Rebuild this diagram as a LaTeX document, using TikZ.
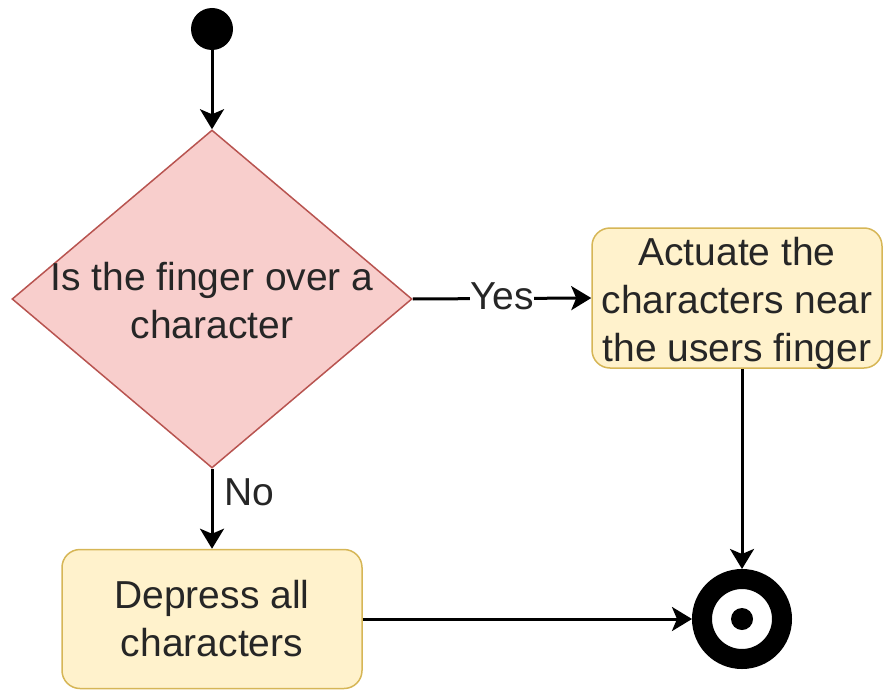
\documentclass[tikz,border=0pt]{standalone}
\usepackage{fontspec}
\setmainfont{Liberation Sans}
\usetikzlibrary{shapes.geometric,arrows.meta}
\definecolor{decfill}{HTML}{F8CECC}
\definecolor{decline}{HTML}{B85450}
\definecolor{actfill}{HTML}{FFF2CC}
\definecolor{actline}{HTML}{D6B656}

\begin{document}
\begin{tikzpicture}[x=1pt, y=-1pt, >={Stealth[length=20pt,width=24pt,inset=5pt]},
	every node/.style={font=\fontsize{39}{48}\selectfont, text=black!85},
	action/.style={draw=actline, fill=actfill, line width=1.5pt, rounded corners=18pt, align=center, inner sep=0pt},
	flow/.style={line width=3pt, ->}]
	\useasboundingbox (0,0) rectangle (883,690);

	\node[circle, fill=black, minimum size=42pt, inner sep=0pt] (start) at (212,29) {};
	\node[diamond, draw=decline, fill=decfill, line width=1.5pt, minimum width=400pt, minimum height=338pt, inner sep=0pt] (finger) at (212,299) {};
	\node[align=center] (fingertext) at (212,301) {Is the finger over a\\character};
	\node[action, minimum width=290pt, minimum height=140pt] (actuate) at (737,298) {};
	\node[align=center] (actuatetext) at (737,303) {Actuate the\\characters near\\the users finger};
	\node[action, minimum width=300pt, minimum height=139pt] (depress) at (212,619) {Depress all\\characters};
	\node[circle, draw=black, line width=20pt, minimum size=80pt, inner sep=0pt, outer sep=10pt] (finish) at (742,619) {};
	\fill (finish.center) circle [radius=11pt];

	\draw[flow] (start) -- (finger.north);
	\draw[flow] (finger.east) -- node[fill=white, inner xsep=0pt, yshift=2pt] {Yes} (actuate.west);
	\draw[flow] (finger.south) -- node[right, pos=0.3, xshift=8pt] {No} (depress.north);
	\draw[flow] (actuate.south -| finish.north) -- (finish.north);
	\draw[flow] (depress.east) -- (finish.west);
\end{tikzpicture}
\end{document}
